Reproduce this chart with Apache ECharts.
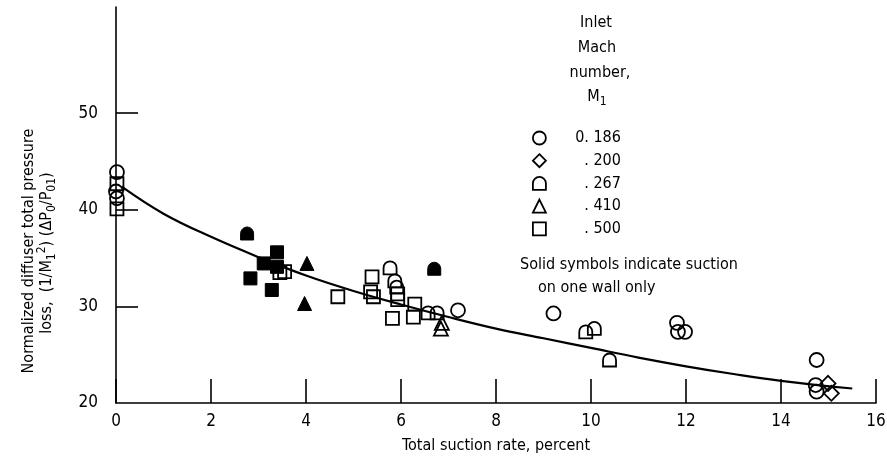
<!DOCTYPE html>
<html>
<head>
<meta charset="utf-8">
<script src="https://cdn.jsdelivr.net/npm/echarts@6/dist/echarts.min.js"></script>
<style>
html,body{margin:0;padding:0;background:#fff;}
#chart{width:887px;height:471px;}
</style>
</head>
<body>
<div id="chart"></div>
<script>
// ---- data (x: total suction rate, percent; y: normalized loss) ----
const xTicks = [0, 2, 4, 6, 8, 10, 12, 14, 16];
const yTickLabels = [20, 30, 40, 50];
const legendNames = ['0. 186', '. 200', '. 267', '. 410', '. 500'];

const m186Open = [[0.02, 43.9], [0.0, 41.9], [0.02, 41.2], [7.2, 29.6], [9.21, 29.27], [11.81, 28.3], [11.83, 27.37], [11.98, 27.37], [14.75, 24.45], [14.73, 21.86], [14.75, 21.17]];
const m200Open = [[14.99, 22.03], [15.06, 21.0]];
const m267Open = [[5.77, 34.0], [5.87, 32.65], [5.91, 32.0], [6.57, 29.34], [6.76, 29.34], [9.89, 27.37], [10.07, 27.72], [10.39, 24.45]];
const m267Solid = [[2.76, 37.55], [6.7, 33.9]];
const m410Open = [[6.84, 27.7], [6.86, 28.3]];
const m410Solid = [[4.02, 34.45], [3.97, 30.3]];
const m500Open = [[0.02, 42.7], [0.02, 40.1], [3.45, 33.5], [3.55, 33.6], [4.67, 31.0], [5.39, 33.06], [5.36, 31.5], [5.42, 31.0], [5.93, 31.3], [5.93, 30.7], [5.82, 28.76], [6.29, 30.24], [6.26, 28.9]];
const m500Solid = [[2.83, 32.9], [3.11, 34.45], [3.39, 35.6], [3.39, 34.1], [3.28, 31.7]];
const fairedCurve = [[0.12, 42.4], [1, 39.6], [2, 37.2], [3, 35.1], [4, 33.2], [5, 31.6], [6, 30.2], [7, 28.9], [8, 27.7], [9, 26.7], [10, 25.7], [11, 24.7], [12, 23.8], [13, 23.0], [14, 22.3], [15.5, 21.5]];

const FONT = "'DejaVu Sans Condensed', 'Liberation Sans Narrow', 'DejaVu Sans', sans-serif";
const ARCH = 'path://M0,10 L0,5 A5,5 0 0 1 10,5 L10,10 Z';
const symbols = ['circle', 'diamond', ARCH, 'triangle', 'rect'];

const openStyle = { color: 'rgba(0,0,0,0)', borderColor: '#000', borderWidth: 1.8, opacity: 1 };
const solidStyle = { color: '#000', borderColor: '#000', borderWidth: 1, opacity: 1 };

function scatter(name, data, symbol, solid, size) {
  return {
    type: 'scatter', name: name, data: data, symbol: symbol,
    symbolSize: size || 14,
    itemStyle: solid ? solidStyle : openStyle,
    emphasis: { disabled: true }, z: 3
  };
}

const chart = echarts.init(document.getElementById('chart'), null, { renderer: 'canvas' });
chart.setOption({
  animation: false,
  backgroundColor: '#fff',
  grid: { left: 116, right: 11, top: 7, bottom: 68, containLabel: false, outerBoundsMode: 'none' },
  xAxis: {
    type: 'value', min: 0, max: 16, interval: 2,
    name: 'Total suction rate, percent', nameLocation: 'middle', nameGap: 35,
    nameTextStyle: { fontFamily: FONT, fontSize: 16, color: '#000' },
    axisLine: { lineStyle: { color: '#000', width: 1.6 } },
    axisTick: { inside: true, length: 24, lineStyle: { color: '#000', width: 1.6 } },
    axisLabel: { fontFamily: FONT, fontSize: 17, color: '#000', margin: 10 },
    splitLine: { show: false }
  },
  yAxis: {
    type: 'value', min: 20, max: 61, interval: 10,
    axisLine: { show: true, lineStyle: { color: '#000', width: 1.6 } },
    axisTick: { show: true, inside: true, length: 22, lineStyle: { color: '#000', width: 1.6 }, customValues: [30, 40, 50] },
    axisLabel: { fontFamily: FONT, fontSize: 17, color: '#000', margin: 18, customValues: yTickLabels },
    splitLine: { show: false }
  },
  legend: {
    orient: 'vertical', left: 527, top: 125,
    itemWidth: 13, itemHeight: 13, itemGap: 6.7,
    selectedMode: false,
    data: legendNames.map((n, i) => ({ name: n, icon: symbols[i], itemStyle: openStyle })),
    formatter: n => '{r|' + n + '}',
    textStyle: {
      fontFamily: FONT, fontSize: 16, color: '#000', lineHeight: 16,
      rich: { r: { width: 70, align: 'right', fontFamily: FONT, fontSize: 16, lineHeight: 16 } }
    }
  },
  graphic: [
    { type: 'text', x: 596, y: 23, style: { text: 'Inlet', font: '16px ' + FONT, fill: '#000', align: 'center', verticalAlign: 'middle' } },
    { type: 'text', x: 597, y: 48, style: { text: 'Mach', font: '16px ' + FONT, fill: '#000', align: 'center', verticalAlign: 'middle' } },
    { type: 'text', x: 600, y: 73, style: { text: 'number,', font: '16px ' + FONT, fill: '#000', align: 'center', verticalAlign: 'middle' } },
    { type: 'text', x: 597, y: 97, style: {
      text: '{a|M}{s|1}', align: 'center', verticalAlign: 'middle',
      rich: { a: { fontFamily: FONT, fontSize: 16, fill: '#000', lineHeight: 22 },
              s: { fontFamily: FONT, fontSize: 12, fill: '#000', lineHeight: 12, verticalAlign: 'bottom' } } } },
    { type: 'text', x: 520, y: 265, style: { text: 'Solid symbols indicate suction', font: '16px ' + FONT, fill: '#000', align: 'left', verticalAlign: 'middle' } },
    { type: 'text', x: 538, y: 288, style: { text: 'on one wall only', font: '16px ' + FONT, fill: '#000', align: 'left', verticalAlign: 'middle' } },
    { type: 'text', x: 29, y: 251, rotation: Math.PI / 2, style: { text: 'Normalized diffuser total pressure', font: '16px ' + FONT, fill: '#000', align: 'center', verticalAlign: 'middle' } },
    { type: 'text', x: 47, y: 253, rotation: Math.PI / 2, style: {
      text: '{a|loss,  (1/M}{s|1}{p|2}{a|) (ΔP}{s|0}{a|/P}{s|01}{a|)}', align: 'center', verticalAlign: 'middle',
      rich: { a: { fontFamily: FONT, fontSize: 16, fill: '#000', lineHeight: 22 },
              s: { fontFamily: FONT, fontSize: 12, fill: '#000', lineHeight: 12, verticalAlign: 'bottom' },
              p: { fontFamily: FONT, fontSize: 12, fill: '#000', lineHeight: 12, verticalAlign: 'top' } } } }
  ],
  series: [
    { type: 'line', name: 'curve', data: fairedCurve, smooth: 0.4, showSymbol: false, symbol: 'none',
      lineStyle: { color: '#000', width: 2.2 }, emphasis: { disabled: true }, z: 2 },
    scatter(legendNames[0], m186Open, symbols[0], false, 14),
    scatter(legendNames[1], m200Open, symbols[1], false, 15),
    scatter(legendNames[2], m267Open, symbols[2], false, 13),
    scatter(legendNames[2], m267Solid, symbols[2], true, 13),
    scatter(legendNames[3], m410Open, symbols[3], false, 14),
    scatter(legendNames[3], m410Solid, symbols[3], true, 14),
    scatter(legendNames[4], m500Open, symbols[4], false, 13),
    scatter(legendNames[4], m500Solid, symbols[4], true, 13)
  ]
});
</script>
</body>
</html>
